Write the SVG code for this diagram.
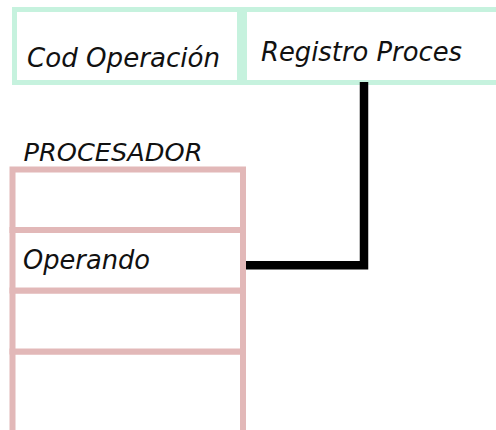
<svg xmlns="http://www.w3.org/2000/svg" width="496" height="430" viewBox="0 0 496 430">
<style>
.g{fill:#ffffff;stroke:#c6f2de;stroke-width:5}
.p{fill:#ffffff;stroke:#e2b8b8;stroke-width:6}
.t{font-family:"DejaVu Sans",Verdana,sans-serif;font-style:italic;fill:#111111}
.c{fill:none;stroke:#000000;stroke-width:8.5;stroke-linejoin:miter;stroke-linecap:butt}
</style>
<rect width="496" height="430" fill="#ffffff"/>
<g id="cod-operacion">
<rect class="g" x="14.5" y="9.5" width="225" height="73"/>
<text class="t" x="27" y="67" font-size="26" textLength="193" lengthAdjust="spacingAndGlyphs">Cod Operación</text>
</g>
<g id="registro-proces">
<rect class="g" x="244.5" y="9.5" width="270" height="73"/>
<text class="t" x="261" y="60.5" font-size="26" textLength="201" lengthAdjust="spacingAndGlyphs">Registro Proces</text>
</g>
<g id="procesador">
<text class="t" x="23.5" y="161" font-size="25" textLength="179" lengthAdjust="spacingAndGlyphs">PROCESADOR</text>
<rect class="p" x="12.5" y="169.5" width="230.5" height="60.5"/>
<rect class="p" x="12.5" y="351.5" width="230.5" height="100"/>
<rect class="p" x="12.5" y="290.5" width="230.5" height="61"/>
</g>
<g id="operando">
<rect class="p" x="12.5" y="230" width="230.5" height="60.5"/>
<text class="t" x="23" y="269" font-size="26" textLength="127" lengthAdjust="spacingAndGlyphs">Operando</text>
</g>
<g id="connectors">
<path class="c" d="M246 265.3 H364 V82"/>
</g>
</svg>
